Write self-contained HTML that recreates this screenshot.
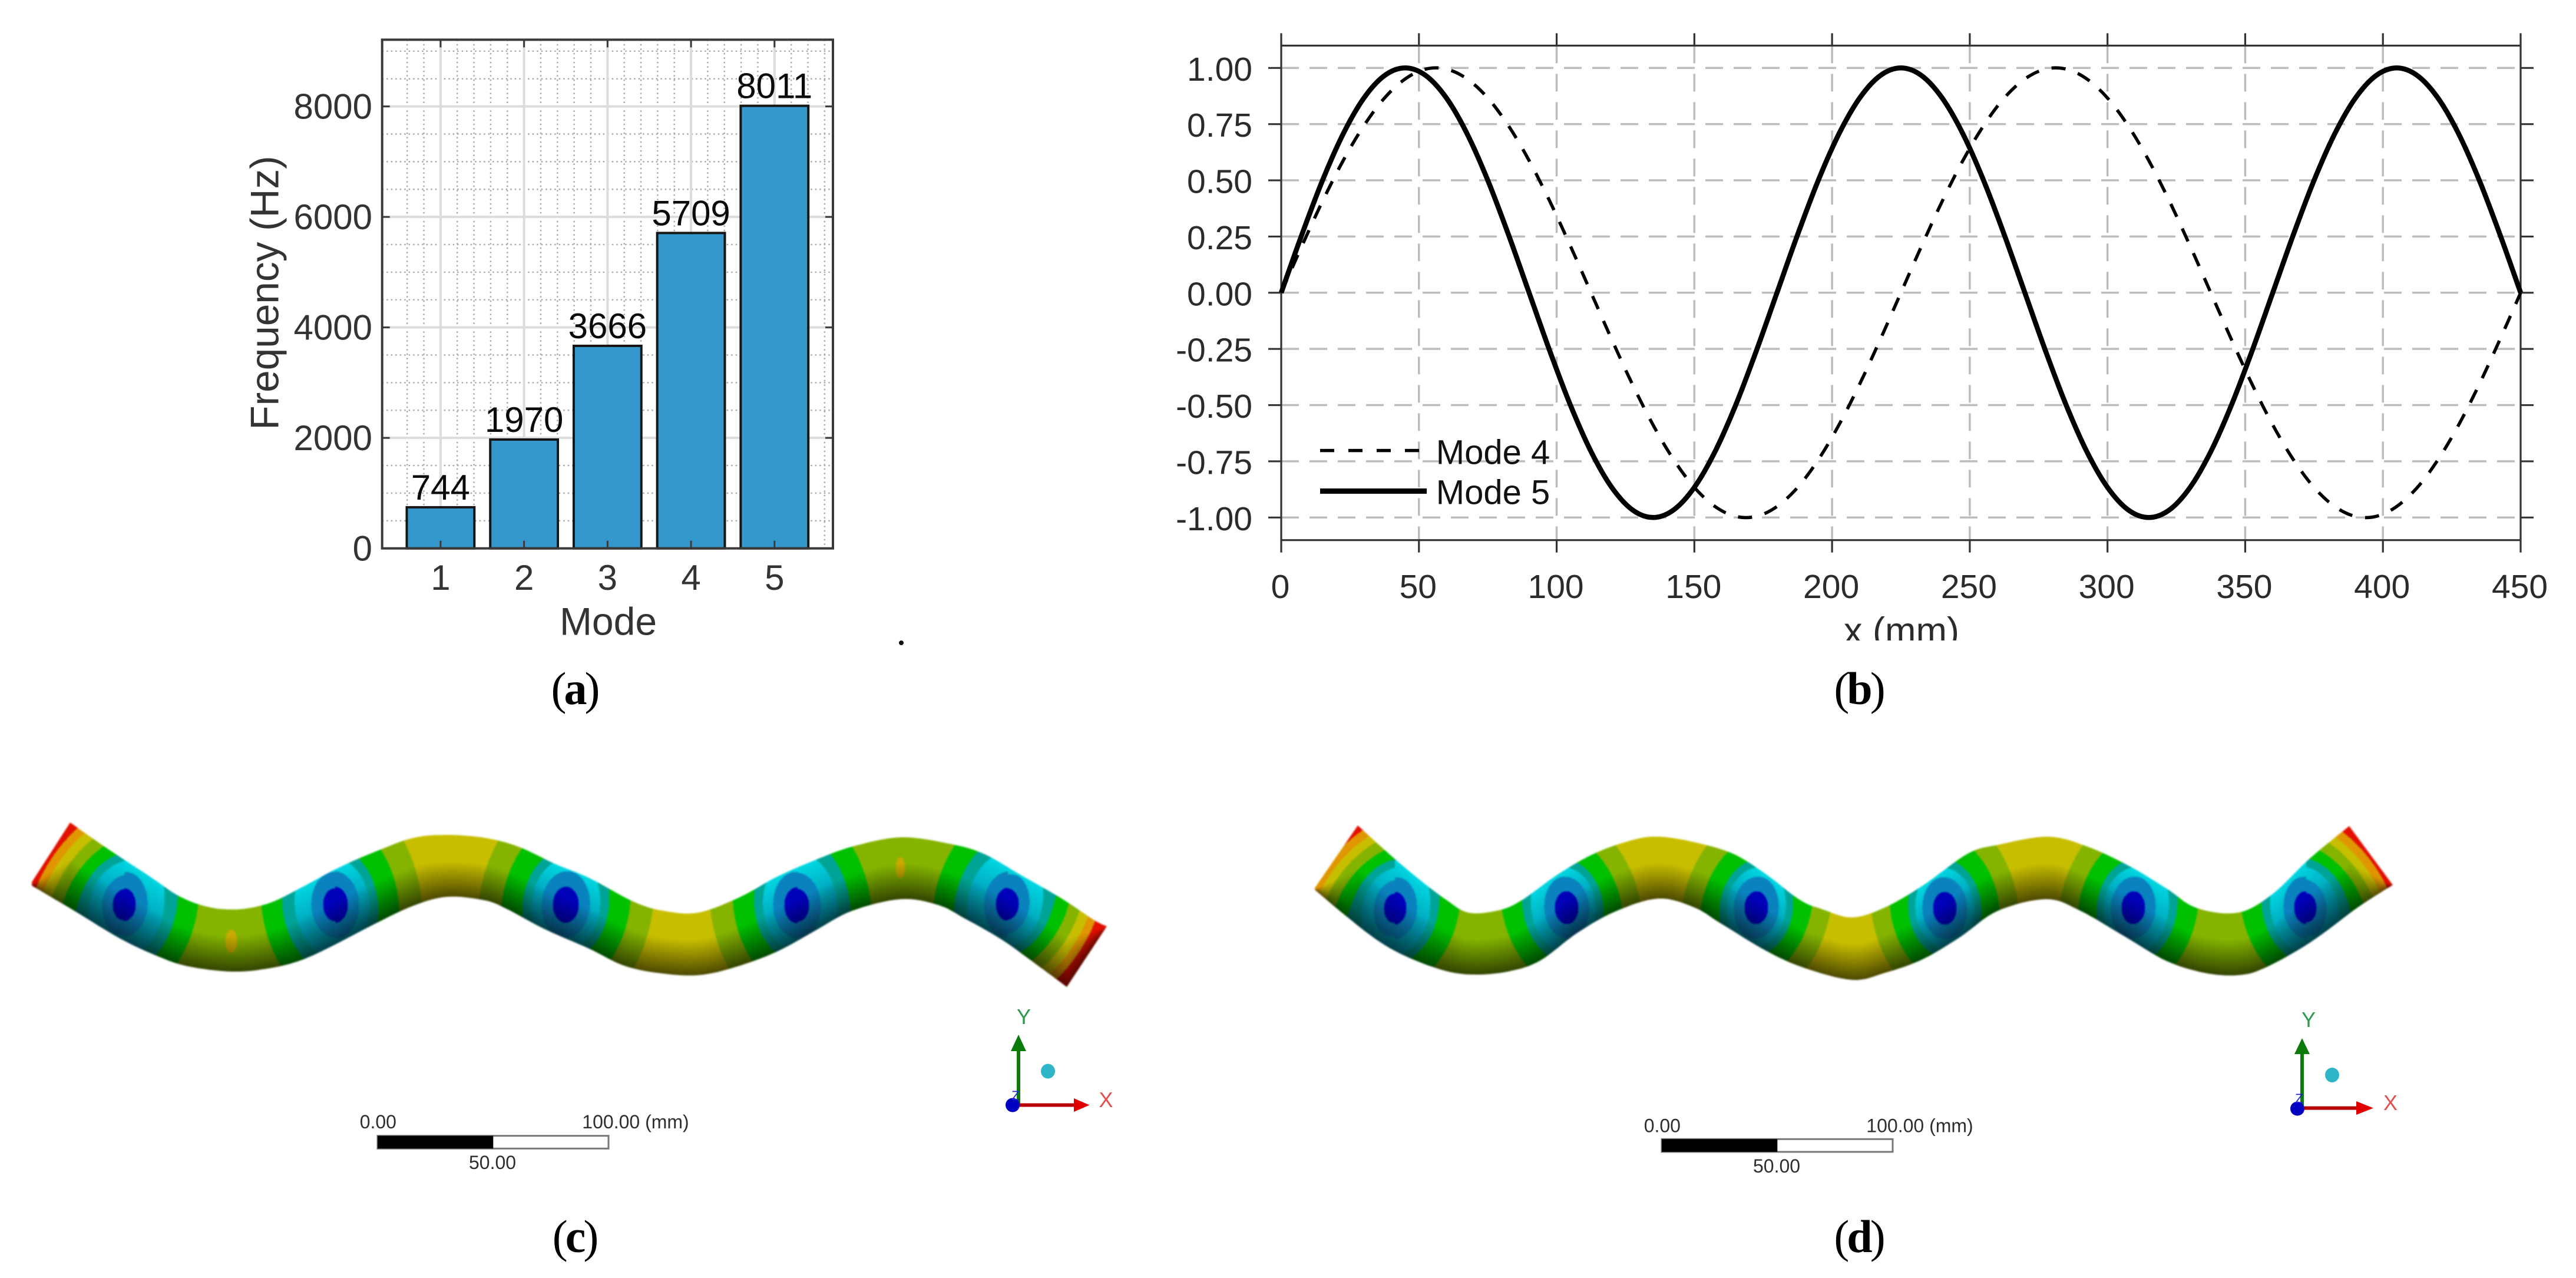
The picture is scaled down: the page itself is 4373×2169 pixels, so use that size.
<!DOCTYPE html>
<html lang="en">
<head>
<meta charset="utf-8">
<title>Modal frequencies and mode shapes</title>
<style>
html,body{margin:0;padding:0;background:#fff;width:4373px;height:2169px;overflow:hidden}
#stage{position:relative;width:4373px;height:2169px;background:#fff}
canvas{position:absolute;filter:blur(1.3px)}
svg{position:absolute;left:0;top:0}
text{font-family:"Liberation Sans",Arial,sans-serif}
.cap{font-family:"Liberation Serif","Times New Roman",serif;font-size:78px;letter-spacing:-4px;fill:#000}
</style>
</head>
<body>
<div id="stage">
<canvas id="beamC" style="left:40px;top:1380px" width="1860" height="310"></canvas>
<canvas id="beamD" style="left:2215px;top:1385px" width="1865" height="295"></canvas>
<svg id="fig" width="4373" height="2169" viewBox="0 0 4373 2169" xmlns="http://www.w3.org/2000/svg">
  <g id="chartA"></g>
  <g id="chartB"></g>
  <circle cx="1530" cy="1091" r="4" fill="#111"/>
  <text class="cap" x="975" y="1195" text-anchor="middle">(<tspan font-weight="bold">a</tspan>)</text>
  <text class="cap" x="3155" y="1195" text-anchor="middle">(<tspan font-weight="bold">b</tspan>)</text>
  <text class="cap" x="975" y="2125" text-anchor="middle">(<tspan font-weight="bold">c</tspan>)</text>
  <text class="cap" x="3155" y="2125" text-anchor="middle">(<tspan font-weight="bold">d</tspan>)</text>

  <g fill="#2e2e2e" font-size="32">
    <rect x="641" y="1927.7" width="392" height="21.6" fill="#fff" stroke="#777" stroke-width="3"/>
    <rect x="641" y="1927.7" width="196.3" height="21.6" fill="#000"/>
    <text x="610.7" y="1915">0.00</text>
    <text x="796" y="1984">50.00</text>
    <text x="988.3" y="1915">100.00 (mm)</text>
  </g>
  <g fill="#2e2e2e" font-size="32">
    <rect x="2821" y="1933.3" width="392" height="21.6" fill="#fff" stroke="#777" stroke-width="3"/>
    <rect x="2821" y="1933.3" width="196.3" height="21.6" fill="#000"/>
    <text x="2790.7" y="1921.7">0.00</text>
    <text x="2976" y="1990">50.00</text>
    <text x="3168.3" y="1921.7">100.00 (mm)</text>
  </g>

  <g>
    <rect x="1726" y="1784" width="6" height="92" fill="#0a7a0a"/>
    <polygon points="1729,1756 1716,1784 1742,1784" fill="#0a7a0a"/>
    <rect x="1729" y="1872.5" width="94" height="6" fill="#b80000"/>
    <polygon points="1849.5,1875.5 1823,1864 1823,1887" fill="#e00000"/>
    <ellipse cx="1719" cy="1875.5" rx="12" ry="12" fill="#0000c0"/>
    <ellipse cx="1779" cy="1818" rx="12" ry="12.5" fill="#2fb6c6"/>
    <text x="1738" y="1738" font-size="36" fill="#2e9a50" text-anchor="middle">Y</text>
    <text x="1877.5" y="1879" font-size="36" fill="#e05050" text-anchor="middle">X</text>
    <text x="1724" y="1867" font-size="22" fill="#2020d0" text-anchor="middle">Z</text>
  </g>
  <g>
    <rect x="3905" y="1789" width="6" height="92" fill="#0a7a0a"/>
    <polygon points="3908,1762 3895,1789 3921,1789" fill="#0a7a0a"/>
    <rect x="3908" y="1877.6" width="92" height="6" fill="#b80000"/>
    <polygon points="4029,1880.6 4000,1869 4000,1892" fill="#e00000"/>
    <ellipse cx="3900" cy="1881.6" rx="12" ry="12" fill="#0000c0"/>
    <ellipse cx="3959" cy="1824.5" rx="12" ry="12.5" fill="#2fb6c6"/>
    <text x="3919" y="1743" font-size="36" fill="#2e9a50" text-anchor="middle">Y</text>
    <text x="4058" y="1884" font-size="36" fill="#e05050" text-anchor="middle">X</text>
    <text x="3903" y="1872" font-size="22" fill="#2020d0" text-anchor="middle">Z</text>
  </g>
</svg>
</div>
<script>
/* ---------- chart data ---------- */
const barCategories = [1, 2, 3, 4, 5];
const barFrequencies = [744, 1970, 3666, 5709, 8011];
const freqTicks = [0, 2000, 4000, 6000, 8000];

const shapeSamples = [0,7.5,15,22.5,30,37.5,45,52.5,60,67.5,75,82.5,90,97.5,105,112.5,120,127.5,135,142.5,150,157.5,165,172.5,180,187.5,195,202.5,210,217.5,225,232.5,240,247.5,255,262.5,270,277.5,285,292.5,300,307.5,315,322.5,330,337.5,345,352.5,360,367.5,375,382.5,390,397.5,405,412.5,420,427.5,435,442.5,450];
const mode4Values = [0,.208,.407,.588,.743,.866,.951,.995,.995,.951,.866,.743,.588,.407,.208,0,-.208,-.407,-.588,-.743,-.866,-.951,-.995,-.995,-.951,-.866,-.743,-.588,-.407,-.208,0,.208,.407,.588,.743,.866,.951,.995,.995,.951,.866,.743,.588,.407,.208,0,-.208,-.407,-.588,-.743,-.866,-.951,-.995,-.995,-.951,-.866,-.743,-.588,-.407,-.208,0];
const mode5Values = [0,.259,.5,.707,.866,.966,1,.966,.866,.707,.5,.259,0,-.259,-.5,-.707,-.866,-.966,-1,-.966,-.866,-.707,-.5,-.259,0,.259,.5,.707,.866,.966,1,.966,.866,.707,.5,.259,0,-.259,-.5,-.707,-.866,-.966,-1,-.966,-.866,-.707,-.5,-.259,0,.259,.5,.707,.866,.966,1,.966,.866,.707,.5,.259,0];
const shapeXTicks = [0,50,100,150,200,250,300,350,400,450];
const shapeYTicks = [-1,-0.75,-0.5,-0.25,0,0.25,0.5,0.75,1];

/* ---------- helpers ---------- */
const NS = 'http://www.w3.org/2000/svg';
function mk(tag, attrs, parent, txt){
  const e = document.createElementNS(NS, tag);
  for (const k in attrs) e.setAttribute(k, attrs[k]);
  if (txt !== undefined) e.textContent = txt;
  parent.appendChild(e);
  return e;
}
function curvePath(pts){
  let d = 'M' + pts[0][0].toFixed(1) + ' ' + pts[0][1].toFixed(1);
  for (let i = 0; i < pts.length - 1; i++){
    const p0 = pts[i-1] || pts[i], p1 = pts[i], p2 = pts[i+1], p3 = pts[i+2] || p2;
    const c1x = p1[0] + (p2[0]-p0[0])/6, c1y = p1[1] + (p2[1]-p0[1])/6;
    const c2x = p2[0] - (p3[0]-p1[0])/6, c2y = p2[1] - (p3[1]-p1[1])/6;
    d += 'C' + c1x.toFixed(1) + ' ' + c1y.toFixed(1) + ' ' + c2x.toFixed(1) + ' ' + c2y.toFixed(1) + ' ' + p2[0].toFixed(1) + ' ' + p2[1].toFixed(1);
  }
  return d;
}

/* ---------- chart (a) ---------- */
(function(){
  const g = document.getElementById('chartA');
  const L = 648.7, R = 1414, T = 67.4, B = 930.7;
  const xA = v => L + (v - 0.3) * (R - L) / 5.4;
  const yA = v => B - v * 0.09376;
  const barWidth = 0.81 * (R - L) / 5.4;
  const INK = '#3a3a3a';

  for (let v = 500; v <= 9000; v += 500){
    if (v % 2000 === 0) continue;
    const m = mk('line',{x1:L,x2:R,y1:yA(v),y2:yA(v),stroke:'#a8a8a8','stroke-width':2.4,'stroke-dasharray':'2.5 5'},g);
    
    
  }
  for (let i = 2; i <= 27; i++){
    const v = i * 0.2 + 0.2;
    if (Math.abs(v - Math.round(v)) < 0.01) continue;
    const m = mk('line',{x1:xA(v),x2:xA(v),y1:T,y2:B,stroke:'#a8a8a8','stroke-width':2.4,'stroke-dasharray':'2.5 5'},g);
    
    
  }
  freqTicks.forEach(v => {
    if (v === 0) return;
    const m = mk('line',{x1:L,x2:R,y1:yA(v),y2:yA(v),stroke:'#dcdcdc','stroke-width':4},g);
    
    
  });
  barCategories.forEach(v => {
    const m = mk('line',{x1:xA(v),x2:xA(v),y1:T,y2:B,stroke:'#dcdcdc','stroke-width':4},g);
    
    
  });
  barCategories.forEach((c,i) => {
    const val = barFrequencies[i];
    const r = mk('rect',{x:xA(c)-barWidth/2,y:yA(val),width:barWidth,height:B-yA(val),fill:'#3498cc',stroke:'#161616','stroke-width':4},g);
    
    
    const t = mk('text',{x:xA(c),y:yA(val)-13,'text-anchor':'middle','font-size':60,fill:'#0a0a0a'},g,String(val));
    
    
  });
  const frame = mk('rect',{x:L,y:T,width:R-L,height:B-T,fill:'none',stroke:INK,'stroke-width':4},g);
  
  

  freqTicks.forEach(v => {
    const y = yA(v);
    const a = mk('line',{x1:L,x2:L+13,y1:y,y2:y,stroke:INK,'stroke-width':3},g);
    
    
    const b = mk('line',{x1:R-13,x2:R,y1:y,y2:y,stroke:INK,'stroke-width':3},g);
    
    
    const t = mk('text',{x:632,y:y+21,'text-anchor':'end','font-size':60,fill:'#333'},g,String(v));
    
    
  });
  barCategories.forEach(c => {
    const x = xA(c);
    const a = mk('line',{x1:x,x2:x,y1:B-13,y2:B,stroke:INK,'stroke-width':3},g);
    
    
    const b = mk('line',{x1:x,x2:x,y1:T,y2:T+13,stroke:INK,'stroke-width':3},g);
    
    
    const t = mk('text',{x:x,y:1001,'text-anchor':'middle','font-size':60,fill:'#333'},g,String(c));
    
    
  });
  const xt = mk('text',{x:1032.5,y:1077.6,'text-anchor':'middle','font-size':66,fill:'#333'},g,'Mode');
  
  
  const yt = mk('text',{x:472.7,y:497,'text-anchor':'middle','font-size':67.5,fill:'#333',transform:'rotate(-90 472.7 497)'},g,'Frequency (Hz)');
  
  
})();

/* ---------- chart (b) ---------- */
(function(){
  const g = document.getElementById('chartB');
  const L = 2175, R = 4279, T = 77.4, B = 916.7;
  const xB = v => L + v * (R - L) / 450;
  const yB = v => 496.8 - v * 381.5;
  const INK = '#333';

  shapeYTicks.forEach(v => {
    const m = mk('line',{x1:L,x2:R,y1:yB(v),y2:yB(v),stroke:'#bcbcbc','stroke-width':3.5,'stroke-dasharray':'30 18'},g);
    
    
  });
  shapeXTicks.forEach(v => {
    if (v === 0 || v === 450) return;
    const m = mk('line',{x1:xB(v),x2:xB(v),y1:T,y2:B,stroke:'#bcbcbc','stroke-width':3.5,'stroke-dasharray':'30 18'},g);
    
    
  });
  const frame = mk('rect',{x:L,y:T,width:R-L,height:B-T,fill:'none',stroke:INK,'stroke-width':3.2},g);
  
  

  shapeXTicks.forEach(v => {
    const x = xB(v);
    const a = mk('line',{x1:x,x2:x,y1:B,y2:B+21,stroke:INK,'stroke-width':3.2},g);
    
    
    const b = mk('line',{x1:x,x2:x,y1:T-21,y2:T,stroke:INK,'stroke-width':3.2},g);
    
    
    const t = mk('text',{x:x-1.5,y:1015,'text-anchor':'middle','font-size':57,fill:'#2b2b2b'},g,String(v));
    
    
  });
  shapeYTicks.forEach(v => {
    const y = yB(v);
    const a = mk('line',{x1:L-22,x2:L,y1:y,y2:y,stroke:INK,'stroke-width':3.2},g);
    
    
    const b = mk('line',{x1:R,x2:R+22,y1:y,y2:y,stroke:INK,'stroke-width':3.2},g);
    
    
    const t = mk('text',{x:2126,y:y+21.5,'text-anchor':'end','font-size':57,fill:'#2b2b2b'},g,v.toFixed(2));
    
    
  });

  const pts4 = shapeSamples.map((x,i) => [xB(x), yB(mode4Values[i])]);
  const pts5 = shapeSamples.map((x,i) => [xB(x), yB(mode5Values[i])]);
  const s4 = mk('path',{d:curvePath(pts4),fill:'none',stroke:'#000','stroke-width':5.5,'stroke-dasharray':'24 22'},g);
  
  
  const s5 = mk('path',{d:curvePath(pts5),fill:'none',stroke:'#000','stroke-width':8.5,'stroke-linejoin':'round'},g);
  
  

  const l4 = mk('line',{x1:2241,x2:2409,y1:764.6,y2:764.6,stroke:'#000','stroke-width':5.5,'stroke-dasharray':'24 24'},g);
  
  
  const lt4 = mk('text',{x:2437.8,y:787.6,'font-size':58,fill:'#111'},g,'Mode 4');
  
  
  const l5 = mk('line',{x1:2241,x2:2422,y1:833.5,y2:833.5,stroke:'#000','stroke-width':9},g);
  
  
  const lt5 = mk('text',{x:2437.8,y:855.7,'font-size':58,fill:'#111'},g,'Mode 5');
  
  

  const clip = mk('clipPath',{id:'xTitleClip'},g);
  mk('rect',{x:3000,y:1030,width:500,height:57},clip);
  const xt = mk('text',{x:3228,y:1092,'text-anchor':'middle','font-size':63,fill:'#2b2b2b','clip-path':'url(#xTitleClip)'},g,'x (mm)');
  
  
})();

/* ---------- FEA contour plots ---------- */
const PAL = [[0,0,184],[10,130,190],[0,168,190],[0,164,150],[0,192,0],[132,180,0],[200,190,0],[224,150,0],[226,16,0]];
const CYAN_TOP = [0,215,225];
function smooth(raw){
  const out = [];
  for (let i = 0; i < raw.length - 1; i++){
    const p0 = raw[i-1] || raw[i], p1 = raw[i], p2 = raw[i+1], p3 = raw[i+2] || p2;
    for (let k = 0; k < 8; k++){
      const t = k/8, t2 = t*t, t3 = t2*t;
      out.push([
        .5*(2*p1[0]+(p2[0]-p0[0])*t+(2*p0[0]-5*p1[0]+4*p2[0]-p3[0])*t2+(3*p1[0]-p0[0]-3*p2[0]+p3[0])*t3),
        .5*(2*p1[1]+(p2[1]-p0[1])*t+(2*p0[1]-5*p1[1]+4*p2[1]-p3[1])*t2+(3*p1[1]-p0[1]-3*p2[1]+p3[1])*t3)
      ]);
    }
  }
  out.push(raw[raw.length-1]);
  return out;
}
function interp(poly, x){
  if (x <= poly[0][0]) return poly[0][1];
  for (let i = 1; i < poly.length; i++){
    if (x <= poly[i][0]){
      const a = poly[i-1], b = poly[i];
      const w = b[0]-a[0];
      return w < 1e-6 ? b[1] : a[1] + (b[1]-a[1])*(x-a[0])/w;
    }
  }
  return poly[poly.length-1][1];
}
function paintBeam(id, ox, oy, cfg){
  const cv = document.getElementById(id), ctx = cv.getContext('2d');
  const W = cv.width, H = cv.height;
  const top = [].concat(cfg.topPre, smooth(cfg.top), cfg.topPost);
  const bot = [].concat(cfg.botPre, smooth(cfg.bot), cfg.botPost);
  const img = ctx.createImageData(W, H), D = img.data;
  const K = 0.72;
  for (let px = 0; px < W; px++){
    const x = px + ox;
    const tp = interp(top, x), bt = interp(bot, x), h = Math.max(bt - tp, 1);
    let reg = cfg.regions[cfg.regions.length-1];
    for (let r = 0; r < cfg.regions.length; r++){ if (x <= cfg.regions[r].xMax){ reg = cfg.regions[r]; break; } }
    for (let py = 0; py < H; py++){
      const y = py + oy;
      const dx = x - reg.n[0], dy = y - reg.n[1];
      /* ellipses near the node stay upright; contours turn with the beam further out */
      const near = Math.min(1, Math.sqrt(dx*dx + dy*dy) / 85);
      const ang = reg.a * near * near;
      const ca = Math.cos(ang), sa = Math.sin(ang);
      const al = dx*ca + dy*sa, pe = -dx*sa + dy*ca;
      const d = Math.sqrt(al*al + K*K*pe*pe);
      let idx = reg.th.length;
      for (let i = 0; i < reg.th.length; i++){ if (d < reg.th[i]){ idx = i; break; } }
      let col = PAL[idx] || PAL[8];
      const t = Math.min(1, Math.max(0, (y - tp)/h));
      if (idx === 2 && t < .5){
        const w = (.5 - t)/.5;
        col = [col[0]+(CYAN_TOP[0]-col[0])*w, col[1]+(CYAN_TOP[1]-col[1])*w, col[2]+(CYAN_TOP[2]-col[2])*w];
      }
      for (let s = 0; s < cfg.spots.length; s++){
        const q = cfg.spots[s], ex = (x-q[0])/q[2], ey = (y-q[1])/q[3];
        if (ex*ex + ey*ey < 1) col = [200,170,0];
      }
      const b = t < .42 ? 1 : 1 - (t-.42)/.58*.62;
      const o = (py*W + px)*4;
      D[o] = col[0]*b; D[o+1] = col[1]*b; D[o+2] = col[2]*b; D[o+3] = 255;
    }
  }
  ctx.putImageData(img, 0, 0);
  ctx.globalCompositeOperation = 'destination-in';
  ctx.beginPath();
  top.forEach((p,i) => { if (i) ctx.lineTo(p[0]-ox, p[1]-oy); else ctx.moveTo(p[0]-ox, p[1]-oy); });
  for (let i = bot.length-1; i >= 0; i--) ctx.lineTo(bot[i][0]-ox, bot[i][1]-oy);
  ctx.closePath();
  ctx.fill();
}
const INF = 1e9;
const S_C = [20,40,68,89,124,INF], Y_C = [22,41,58,73,108,147,INF];
const S_D = [20,38,60,74,108,INF], Y_D = [20,38,50,62,92,124,INF];
const END_C = [19,37,58,74,96,116,132,146];
const END_D = [18,35,54,70,90,108,122,136];
paintBeam('beamC', 40, 1380, {
  topPre:[[54,1497]],
  top:[[119,1396],[185,1442],[255,1488],[306,1522],[357,1540],[408,1543],[459,1532],[510,1507],[574,1473],[638,1445],[702,1422],[759,1417],[823,1422],[880,1437],[944,1467],[1000,1490],[1077,1531],[1128,1546],[1185,1549],[1255,1523],[1319,1488],[1383,1460],[1446,1437],[1529,1421],[1612,1432],[1670,1449],[1733,1485],[1804,1526],[1858,1562],[1879,1572]],
  topPost:[],
  botPre:[],
  bot:[[54,1503],[128,1547],[204,1593],[268,1623],[319,1640],[395,1649],[459,1643],[510,1630],[561,1607],[638,1567],[702,1537],[759,1522],[823,1528],[861,1543],[925,1577],[1000,1610],[1057,1638],[1115,1651],[1185,1655],[1249,1641],[1319,1615],[1383,1580],[1446,1546],[1529,1526],[1593,1536],[1638,1559],[1701,1595],[1765,1641],[1811,1675]],
  botPost:[[1879,1572]],
  regions:[
    {xMax:210,n:[210,1535],a:.61,th:END_C},
    {xMax:392,n:[210,1535],a:.25,th:S_C},
    {xMax:568,n:[568,1535],a:-.16,th:S_C},
    {xMax:762,n:[568,1535],a:-.16,th:Y_C},
    {xMax:960,n:[960,1535],a:.2,th:Y_C},
    {xMax:1157,n:[960,1535],a:.2,th:Y_C},
    {xMax:1353,n:[1353,1536],a:-.18,th:Y_C},
    {xMax:1530,n:[1353,1536],a:-.18,th:S_C},
    {xMax:1710,n:[1710,1534],a:.25,th:S_C},
    {xMax:9999,n:[1710,1534],a:.58,th:END_C}
  ],
  spots:[[392,1597,10,20],[1528,1472,8,18]]
});
paintBeam('beamD', 2215, 1385, {
  topPre:[[2232,1507]],
  top:[[2305,1401],[2359,1450],[2410,1493],[2455,1527],[2493,1549],[2544,1545],[2583,1528],[2646,1483],[2710,1447],[2774,1425],[2815,1420],[2870,1428],[2940,1448],[2997,1483],[3055,1527],[3093,1543],[3144,1557],[3200,1540],[3264,1503],[3340,1449],[3391,1434],[3477,1420],[3544,1437],[3615,1470],[3678,1508],[3729,1541],[3799,1549],[3857,1518],[3921,1457],[3988,1402]],
  topPost:[[4062,1502]],
  botPre:[],
  bot:[[2232,1510],[2283,1553],[2340,1597],[2391,1625],[2455,1648],[2506,1654],[2564,1648],[2615,1630],[2678,1583],[2742,1547],[2815,1525],[2876,1540],[2921,1567],[2997,1613],[3061,1642],[3144,1663],[3200,1651],[3264,1628],[3328,1590],[3391,1546],[3474,1526],[3532,1546],[3608,1590],[3678,1631],[3742,1651],[3799,1655],[3844,1643],[3921,1600],[4004,1539],[4062,1502]],
  botPost:[],
  regions:[
    {xMax:2367,n:[2367,1541],a:.72,th:END_D},
    {xMax:2513,n:[2367,1541],a:.3,th:S_D},
    {xMax:2659,n:[2659,1540],a:-.3,th:S_D},
    {xMax:2815,n:[2659,1540],a:-.3,th:Y_D},
    {xMax:2981,n:[2981,1540],a:.3,th:Y_D},
    {xMax:3144,n:[2981,1540],a:.3,th:Y_D},
    {xMax:3301,n:[3301,1541],a:-.2,th:Y_D},
    {xMax:3477,n:[3301,1541],a:-.2,th:Y_D},
    {xMax:3621,n:[3621,1540],a:.25,th:Y_D},
    {xMax:3768,n:[3621,1540],a:.25,th:S_D},
    {xMax:3914,n:[3914,1540],a:-.3,th:S_D},
    {xMax:9999,n:[3914,1540],a:-.66,th:END_D}
  ],
  spots:[]
});
</script>
</body>
</html>
